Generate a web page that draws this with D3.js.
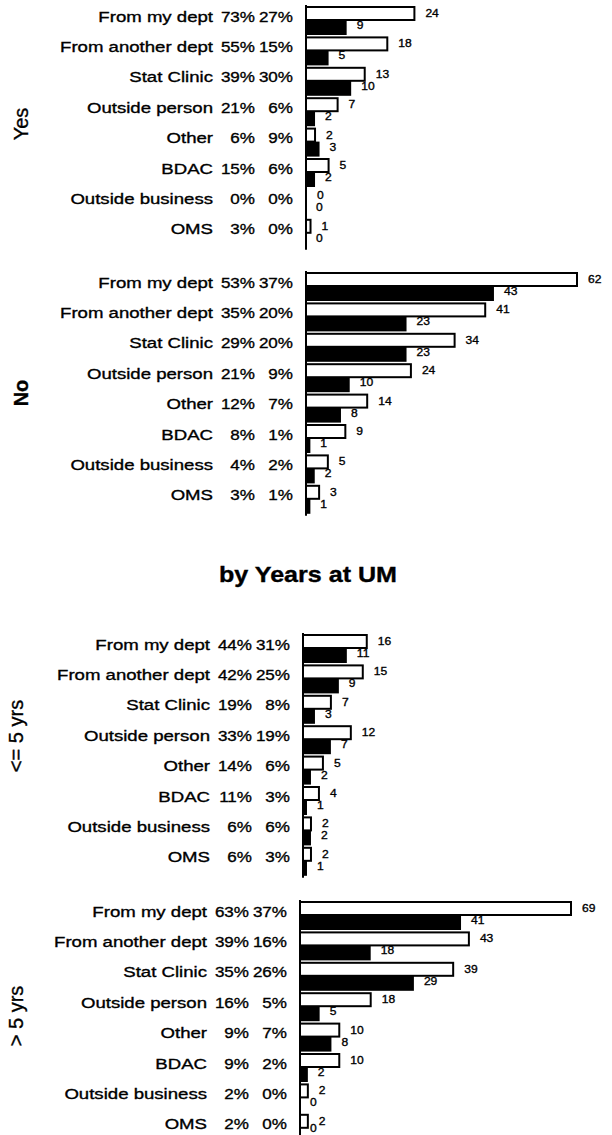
<!DOCTYPE html>
<html>
<head>
<meta charset="utf-8">
<script src="https://d3js.org/d3.v7.min.js"></script>
<style>
  body { margin: 0; background: #fff; }
  svg { display: block; font-family: "Liberation Sans", Arial, sans-serif; }
  text { stroke: #000; stroke-width: 0.35px; }
</style>
</head>
<body>
<svg id="chart" width="612" height="1135"></svg>
<script>
// categories (same order in every panel)
const categories = ["From my dept", "From another dept", "Stat Clinic", "Outside person",
                    "Other", "BDAC", "Outside business", "OMS"];

// group labels
const groups = ["Yes", "No", "<= 5 yrs", "> 5 yrs"];

// first and second percentage columns
const pctA = [
  [73, 55, 39, 21, 6, 15, 0, 3],
  [53, 35, 29, 21, 12, 8, 4, 3],
  [44, 42, 19, 33, 14, 11, 6, 6],
  [63, 39, 35, 16, 9, 9, 2, 2]
];
const pctB = [
  [27, 15, 30, 6, 9, 6, 0, 0],
  [37, 20, 20, 9, 7, 1, 2, 1],
  [31, 25, 8, 19, 6, 3, 6, 3],
  [37, 16, 26, 5, 7, 2, 0, 0]
];

// counts: white (outlined) bars and black bars
const whiteCounts = [
  [24, 18, 13, 7, 2, 5, 0, 1],
  [62, 41, 34, 24, 14, 9, 5, 3],
  [16, 15, 7, 12, 5, 4, 2, 2],
  [69, 43, 39, 18, 10, 10, 2, 2]
];
const blackCounts = [
  [9, 5, 10, 2, 3, 2, 0, 0],
  [43, 23, 23, 10, 8, 1, 2, 1],
  [11, 9, 3, 7, 2, 1, 2, 1],
  [41, 18, 29, 5, 8, 2, 0, 0]
];

const title = "by Years at UM";

// layout of the four panels
const panels = [
  {top: 7,   axisX: 306, xMax: 60, groupX: 21, groupY: 124, bold: false},
  {top: 273, axisX: 306, xMax: 62, groupX: 21, groupY: 393, bold: true},
  {top: 635, axisX: 303, xMax: 68, groupX: 16, groupY: 736, bold: false},
  {top: 902, axisX: 300, xMax: 69, groupX: 16, groupY: 1016, bold: false}
];
const stride = 30.4;
const whiteH = 13, blackH = 15;
const barWidth = 271;
const H = 1135;

const svg = d3.select("#chart");

// stretched text helper (the original print is wider than tall)
function label(g, txt, x, y, size, anchor, sx) {
  return g.append("text")
    .attr("transform", "translate(" + x + "," + y + ") scale(" + sx + ",1)")
    .attr("text-anchor", anchor)
    .attr("font-size", size)
    .attr("fill", "#000")
    .text(txt);
}

panels.forEach(function(p, i) {
  let g = svg.append("g");
  let y = d3.scaleBand()
    .domain(categories)
    .range([p.top, p.top + stride * categories.length])
    .paddingInner(0).paddingOuter(0);
  let x = d3.scaleLinear().domain([0, p.xMax]).range([p.axisX, p.axisX + barWidth]);

  // row labels: category, first %, second %
  categories.forEach(function(c, j) {
    let base = y(c) + 14.5;
    let right = p.axisX - 13;
    label(g, c, right - 80, base, 15.5, "end", 1.2);
    label(g, pctA[i][j] + "%", right - 38, base, 15.5, "end", 1.1);
    label(g, pctB[i][j] + "%", right, base, 15.5, "end", 1.1);
  });

  // white bars
  g.selectAll(".wbar").data(categories).enter().append("rect")
    .attr("x", x(0))
    .attr("y", function(c) { return y(c); })
    .attr("width", function(c, j) { return x(whiteCounts[i][j]) - x(0); })
    .attr("height", whiteH)
    .attr("fill", "#fff")
    .attr("stroke", "#000")
    .attr("stroke-width", 2);

  // black bars
  g.selectAll(".bbar").data(categories).enter().append("rect")
    .attr("x", x(0))
    .attr("y", function(c) { return y(c) + whiteH; })
    .attr("width", function(c, j) { return x(blackCounts[i][j]) - x(0); })
    .attr("height", blackH)
    .attr("fill", "#000");

  // value labels
  categories.forEach(function(c, j) {
    label(g, whiteCounts[i][j], x(whiteCounts[i][j]) + 11, y(c) + 10, 11.5, "start", 1.05);
    // keep the last label inside the page
    let by = Math.min(y(c) + 22, H - 3);
    label(g, blackCounts[i][j], x(blackCounts[i][j]) + 10, by, 11.5, "start", 1.05);
  });

  // axis line
  g.append("line")
    .attr("x1", p.axisX).attr("x2", p.axisX)
    .attr("y1", p.top - 2)
    .attr("y2", Math.min(y(categories[categories.length - 1]) + whiteH + blackH + 2, H))
    .attr("stroke", "#000")
    .attr("stroke-width", 2);

  // group label, rotated
  g.append("text")
    .attr("transform", "translate(" + (p.groupX + 7) + "," + p.groupY + ") rotate(-90)")
    .attr("text-anchor", "middle")
    .attr("font-size", 20)
    .attr("font-weight", p.bold ? "bold" : "normal")
    .text(groups[i]);
});

// middle heading
svg.append("text")
  .attr("transform", "translate(308,582) scale(1.14,1)")
  .attr("text-anchor", "middle")
  .attr("font-size", 22)
  .attr("font-weight", "bold")
  .text(title);
</script>
</body>
</html>
